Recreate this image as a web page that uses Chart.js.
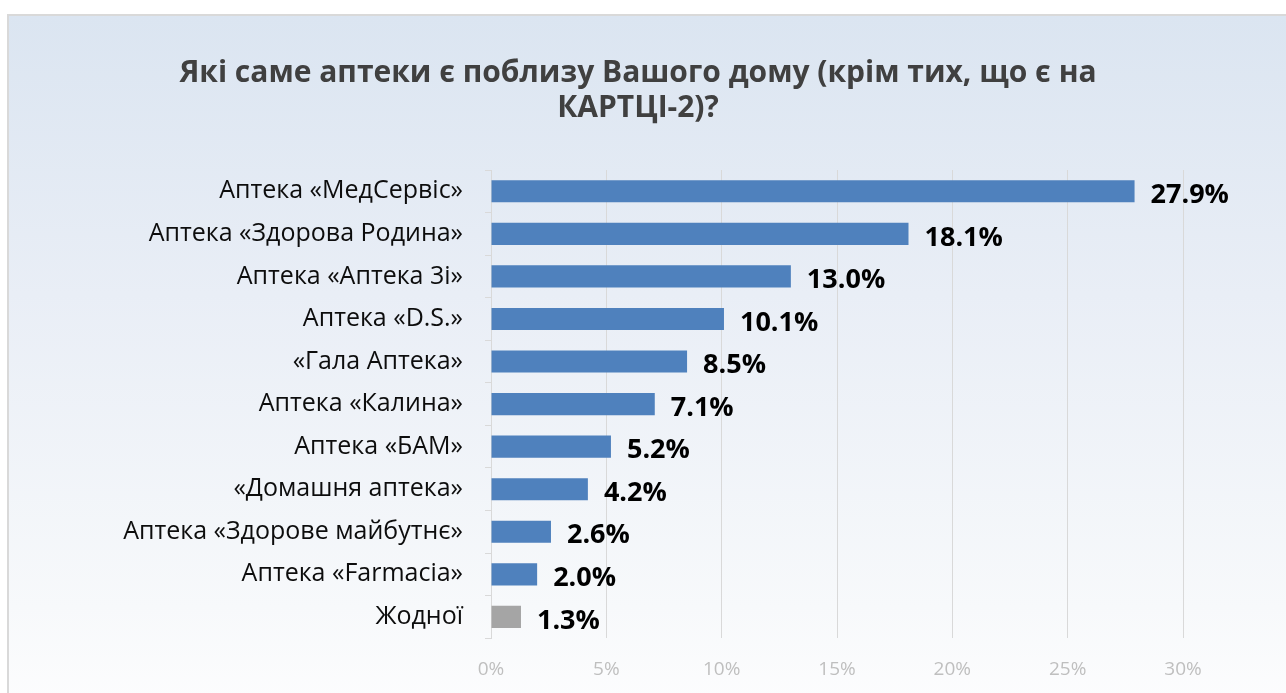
<!DOCTYPE html>
<html>
<head>
<meta charset="utf-8">
<script src="https://cdn.jsdelivr.net/npm/chart.js@4/dist/chart.umd.min.js"></script>
<style>
  html, body { margin: 0; padding: 0; background: #fff; width: 1286px; height: 693px; overflow: hidden; }
  #frame {
    position: absolute; left: 7px; top: 14px; width: 1300px; height: 700px;
    border: 2px solid #d9d9d9; box-sizing: border-box;
    background: linear-gradient(to bottom, #dbe5f1 0%, #e9eef6 40%, #f7f9fb 85%, #fdfdfe 100%);
  }
  #wrap { position: absolute; left: 9px; top: 16px; width: 1258px; height: 677px; }
</style>
</head>
<body>
<div id="frame"></div>
<div id="wrap"><canvas id="chart"></canvas></div>
<script>
// pharmacies near home, share of respondents (%)
const categories = [
    'Аптека «МедСервіс»',
    'Аптека «Здорова Родина»',
    'Аптека «Аптека 3і»',
    'Аптека «D.S.»',
    '«Гала Аптека»',
    'Аптека «Калина»',
    'Аптека «БАМ»',
    '«Домашня аптека»',
    'Аптека «Здорове майбутнє»',
    'Аптека «Farmacia»',
    'Жодної'
];
const values = [27.9, 18.1, 13.0, 10.1, 8.5, 7.1, 5.2, 4.2, 2.6, 2.0, 1.3];
const xTicks = [0, 5, 10, 15, 20, 25, 30];
const titleLines = ['Які саме аптеки є поблизу Вашого дому (крім тих, що є на', 'КАРТЦІ-2)?'];

const FONT = "'Open Sans', sans-serif";
const barColors = values.map((v, i) => categories[i] === 'Жодної' ? '#a5a5a5' : '#4f81bd');

// bold value labels right of each bar
const valueLabels = {
    id: 'valueLabels',
    afterDatasetsDraw(chart) {
        const ctx = chart.ctx;
        const meta = chart.getDatasetMeta(0);
        ctx.save();
        ctx.font = 'bold 27px ' + FONT;
        ctx.fillStyle = '#000';
        ctx.textAlign = 'left';
        ctx.textBaseline = 'middle';
        meta.data.forEach((bar, i) => {
            ctx.fillText(values[i].toFixed(1) + '%', bar.x + 16, bar.y + 4);
        });
        ctx.restore();
    }
};

new Chart(document.getElementById('chart'), {
    type: 'bar',
    data: {
        labels: categories,
        datasets: [{
            data: values,
            backgroundColor: barColors,
            borderWidth: 0,
            categoryPercentage: 1,
            barPercentage: 0.52
        }]
    },
    plugins: [valueLabels],
    options: {
        indexAxis: 'y',
        responsive: true,
        maintainAspectRatio: false,
        animation: false,
        // equal side padding keeps the title centred on the frame
        layout: { padding: { left: 84, right: 84, top: 40, bottom: -8 } },
        plugins: {
            legend: { display: false },
            tooltip: { enabled: false },
            title: {
                display: true,
                text: titleLines,
                color: '#404040',
                font: { family: FONT, size: 30, weight: 'bold', lineHeight: 1.167 },
                padding: { top: 0, bottom: 44 }
            }
        },
        scales: {
            x: {
                min: 0,
                max: 30,
                afterBuildTicks(scale) {
                    scale.ticks = xTicks.map(v => ({ value: v }));
                },
                grid: { color: '#d9d9d9', lineWidth: 1, drawTicks: false },
                border: { display: false },
                ticks: {
                    color: '#bfbfbf',
                    padding: 20,
                    font: { family: FONT, size: 19 },
                    callback: v => v + '%'
                }
            },
            y: {
                afterFit(scale) { scale.width = 398; },
                grid: { drawOnChartArea: false, drawTicks: true, tickLength: 6, color: '#d9d9d9', offset: true },
                border: { display: true, color: '#d9d9d9', width: 1 },
                ticks: {
                    color: '#0d0d0d',
                    padding: 22,
                    font: { family: FONT, size: 25 }
                }
            }
        }
    }
});
</script>
</body>
</html>
